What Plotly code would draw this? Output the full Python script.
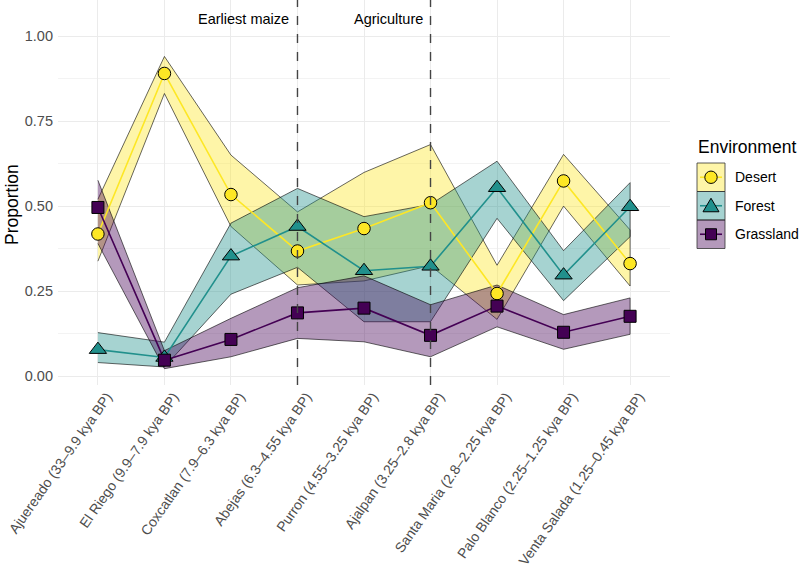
import plotly.graph_objects as go

periods = [
    "Ajuereado (33–9.9 kya BP)", "El Riego (9.9–7.9 kya BP)", "Coxcatlan (7.9–6.3 kya BP)",
    "Abejas (6.3–4.55 kya BP)", "Purron (4.55–3.25 kya BP)", "Ajalpan (3.25–2.8 kya BP)",
    "Santa Maria (2.8–2.25 kya BP)", "Palo Blanco (2.25–1.25 kya BP)", "Venta Salada (1.25–0.45 kya BP)",
]
environments = ["Desert", "Forest", "Grassland"]

desert = [0.418, 0.890, 0.534, 0.368, 0.434, 0.510, 0.243, 0.574, 0.331]
desert_lo = [0.338, 0.831, 0.440, 0.268, 0.280, 0.325, 0.167, 0.500, 0.265]
desert_hi = [0.520, 0.940, 0.650, 0.483, 0.599, 0.681, 0.326, 0.652, 0.430]

forest = [0.078, 0.055, 0.353, 0.440, 0.310, 0.323, 0.554, 0.297, 0.498]
forest_lo = [0.040, 0.027, 0.241, 0.320, 0.160, 0.160, 0.464, 0.222, 0.410]
forest_hi = [0.128, 0.100, 0.450, 0.552, 0.469, 0.505, 0.632, 0.369, 0.569]

grass = [0.496, 0.047, 0.108, 0.186, 0.200, 0.120, 0.206, 0.129, 0.176]
grass_lo = [0.390, 0.022, 0.057, 0.111, 0.101, 0.057, 0.145, 0.079, 0.123]
grass_hi = [0.576, 0.075, 0.170, 0.260, 0.295, 0.210, 0.268, 0.181, 0.230]

events = ["Earliest maize", "Agriculture"]
event_periods = [periods[3], periods[5]]

colors = ["#FDE725", "#21908C", "#440154"]
fills = ["rgba(253,231,37,0.4)", "rgba(33,144,140,0.4)", "rgba(68,1,84,0.4)"]
symbols = ["circle", "triangle-up", "square"]
sizes = [12.5, 15, 12]

means = [desert, forest, grass]
los = [desert_lo, forest_lo, grass_lo]
his = [desert_hi, forest_hi, grass_hi]

FONT = "Liberation Sans, Arial, sans-serif"
xi = list(range(len(periods)))

fig = go.Figure()
for k in range(3):
    fig.add_trace(go.Scatter(
        x=xi + xi[::-1], y=his[k] + los[k][::-1], fill="toself", fillcolor=fills[k],
        line=dict(color="black", width=0.6), mode="lines", showlegend=False, hoverinfo="skip"))
for k in range(3):
    fig.add_trace(go.Scatter(x=xi, y=means[k], mode="lines", line=dict(color=colors[k], width=1.6),
                             showlegend=False))
for k in range(3):
    fig.add_trace(go.Scatter(x=xi, y=means[k], mode="markers", name=environments[k],
                             marker=dict(symbol=symbols[k], size=sizes[k], color=colors[k],
                                         line=dict(color="black", width=1)),
                             showlegend=False))

W, H = 800, 570
L, R, T, B = 58, 670, 0, 385


def px(x, y):
    return (x - L) / (R - L), (B - y) / (B - T)


shapes = []
annotations = []
for ev, p in zip(events, event_periods):
    xv = periods.index(p)
    shapes.append(dict(type="line", xref="x", yref="paper", x0=xv, x1=xv, y0=0, y1=1,
                       line=dict(color="#444444", width=1.4, dash="dash"), layer="above"))
    annotations.append(dict(x=xv, y=1.05, xref="x", yref="y", text=ev, showarrow=False,
                            xanchor="right", yanchor="middle", xshift=-6,
                            font=dict(family=FONT, size=14.5, color="black")))

# legend (drawn manually to match ggplot key style)
tx, ty = px(696, 147)
annotations.append(dict(x=tx, y=ty, xref="paper", yref="paper", text="Environment", showarrow=False,
                        xanchor="left", yanchor="middle", font=dict(family=FONT, size=17.5, color="black")))
key_w, key_h, key_x, key_top = 28, 28.5, 697, 163
for k, env in enumerate(environments):
    y0p = key_top + k * key_h
    x0, y0 = px(key_x, y0p + key_h)
    x1, y1 = px(key_x + key_w, y0p)
    shapes.append(dict(type="rect", xref="paper", yref="paper", x0=x0, y0=y0, x1=x1, y1=y1,
                       fillcolor=fills[k], line=dict(color="#333333", width=0.8)))
    cx, cy = key_x + key_w / 2, y0p + key_h / 2
    lx0, ly = px(key_x + 3, cy)
    lx1, _ = px(key_x + key_w - 3, cy)
    shapes.append(dict(type="line", xref="paper", yref="paper", x0=lx0, x1=lx1, y0=ly, y1=ly,
                       line=dict(color=colors[k], width=1.6)))
    if symbols[k] == "circle":
        a0, b0 = px(cx - 6.2, cy + 6.2)
        a1, b1 = px(cx + 6.2, cy - 6.2)
        shapes.append(dict(type="circle", xref="paper", yref="paper", x0=a0, y0=b0, x1=a1, y1=b1,
                           fillcolor=colors[k], line=dict(color="black", width=1)))
    elif symbols[k] == "square":
        a0, b0 = px(cx - 5.5, cy + 5.5)
        a1, b1 = px(cx + 5.5, cy - 5.5)
        shapes.append(dict(type="rect", xref="paper", yref="paper", x0=a0, y0=b0, x1=a1, y1=b1,
                           fillcolor=colors[k], line=dict(color="black", width=1)))
    else:
        pa = px(cx - 8, cy + 6)
        pb = px(cx + 8, cy + 6)
        pc = px(cx, cy - 7.5)
        path = f"M{pa[0]},{pa[1]} L{pb[0]},{pb[1]} L{pc[0]},{pc[1]} Z"
        shapes.append(dict(type="path", xref="paper", yref="paper", path=path,
                           fillcolor=colors[k], line=dict(color="black", width=1)))
    lbx, lby = px(733, cy)
    annotations.append(dict(x=lbx, y=lby, xref="paper", yref="paper", text=env, showarrow=False,
                            xanchor="left", yanchor="middle", font=dict(family=FONT, size=14, color="black")))

yt_x, yt_y = px(12, 205)
annotations.append(dict(x=yt_x, y=yt_y, xref="paper", yref="paper", text="Proportion", showarrow=False,
                        textangle=-90, xanchor="center", yanchor="middle",
                        font=dict(family=FONT, size=17.5, color="black")))

fig.update_layout(
    width=W, height=H, margin=dict(l=L, r=W - R, t=T, b=H - B, autoexpand=False),
    paper_bgcolor="white", plot_bgcolor="white",
    font=dict(family=FONT, color="black"),
    shapes=shapes, annotations=annotations, showlegend=False,
    xaxis=dict(range=[-0.6, len(periods) - 0.4], tickvals=xi, ticktext=periods, tickangle=-55,
               showgrid=True, gridcolor="#EBEBEB", gridwidth=1.2, zeroline=False, showline=False,
               ticks="", tickfont=dict(family=FONT, size=14, color="#4D4D4D"), ticklabelshift=9,
               ticklabelstandoff=0, ticklabeloverflow="allow", automargin=False),
    yaxis=dict(range=[-0.026, 1.106], tickvals=[0, 0.25, 0.5, 0.75, 1.0],
               ticktext=["0.00", "0.25", "0.50", "0.75", "1.00"],
               showgrid=True, gridcolor="#EBEBEB", gridwidth=1.2, zeroline=False, showline=False,
               ticks="", tickfont=dict(family=FONT, size=14.5, color="#4D4D4D"), ticklabelstandoff=4,
               minor=dict(tickvals=[0.125, 0.375, 0.625, 0.875], showgrid=True, gridcolor="#F3F3F3",
                          gridwidth=0.7),
               automargin=False),
)

fig.write_html("out.html")
